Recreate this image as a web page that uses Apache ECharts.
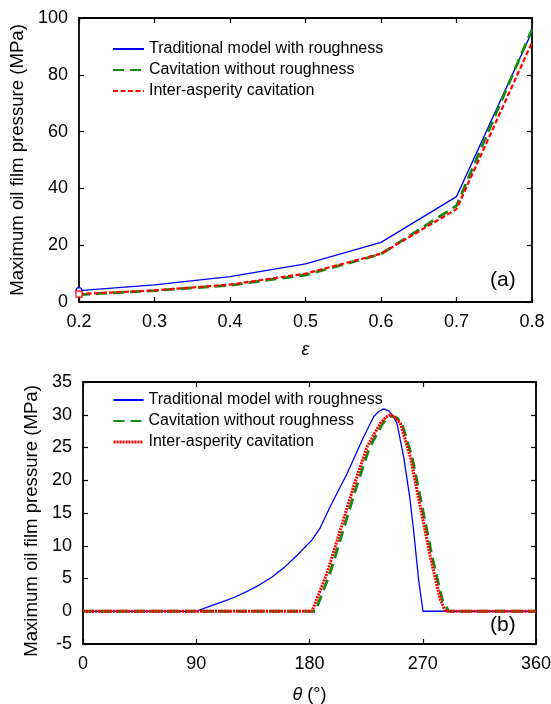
<!DOCTYPE html>
<html>
<head>
<meta charset="utf-8">
<script src="https://cdn.jsdelivr.net/npm/echarts@6/dist/echarts.min.js"></script>
<style>
html,body{margin:0;padding:0;background:#fff;}
#c{width:551px;height:704px;}
</style>
</head>
<body>
<div id="c"></div>
<script>
// ---- Data: panel (a) ----
var epsilon = [0.2, 0.3, 0.4, 0.5, 0.6, 0.7, 0.8];
var pTradA  = [4.0, 6.0, 8.9, 13.4, 21.0, 37.1, 95.2];
var pCavA   = [2.6, 4.0, 5.9, 9.5, 16.9, 33.9, 96.0];
var pInterA = [2.8, 4.1, 6.1, 10.0, 17.0, 32.7, 91.4];

// ---- Data: panel (b) ----
var thetaTrad = [0, 90, 100, 110, 120, 130, 140, 150, 160, 170, 182, 188.4, 196.5, 209.8, 223, 231, 235, 238.9, 243, 246, 249.5, 254.8, 259.6, 262.7, 266.7, 270.2, 360];
var pTradB    = [0, 0, 0.7, 1.4, 2.1, 3.0, 4.0, 5.2, 6.7, 8.5, 10.9, 12.7, 16.0, 21.0, 26.6, 29.7, 30.5, 30.9, 30.6, 29.9, 28.7, 23.6, 17.5, 12.4, 4.8, 0, 0];
var thetaCav  = [0, 184.6, 196, 206.5, 217, 227.5, 238, 242, 245.5, 249.5, 253.5, 261.5, 269.5, 277.5, 285.5, 290.6, 360];
var pCavB     = [0, 0, 5.6, 12.2, 18.8, 24.9, 28.6, 29.5, 29.8, 29.5, 28.6, 23.6, 16.0, 8.3, 1.75, 0, 0];
var thetaInter = [0, 182, 193.9, 204.5, 215, 225.7, 236.3, 240.5, 244.2, 248, 252.2, 260.1, 268, 276, 284, 288, 360];
var pInterB    = [0, 0, 5.8, 12.4, 19.0, 25.1, 28.7, 29.6, 30.0, 29.6, 28.7, 23.6, 16.0, 8.3, 1.75, 0, 0];

var xTicksA = ['0.2','0.3','0.4','0.5','0.6','0.7','0.8'];
var xTicksB = ['0','90','180','270','360'];

var names = ['Traditional model with roughness', 'Cavitation without roughness', 'Inter-asperity cavitation'];

function zip(xs, ys) { return xs.map(function (x, i) { return [x, ys[i]]; }); }

var FONT = '"Liberation Sans", Arial, sans-serif';
var BLUE = '#0000ff', GREEN = '#138a13', RED = '#ff0000';

function frameAxes(gridIndex, xmin, xmax, xint, ymin, ymax, yint, xFmt, xName, xGap, yNamePad) {
  var axLine = { show: true, onZero: false, lineStyle: { color: '#000', width: 1.8 } };
  var tick = { show: true, inside: true, length: 5, lineStyle: { color: '#000', width: 1.2 } };
  return {
    x: [
      { type: 'value', gridIndex: gridIndex, position: 'bottom', min: xmin, max: xmax, interval: xint,
        axisLine: axLine, axisTick: tick, splitLine: { show: false },
        axisLabel: { color: '#000', fontSize: 18, fontFamily: FONT, margin: 11, formatter: xFmt },
        name: xName, nameLocation: 'middle', nameGap: xGap,
        nameTextStyle: { color: '#000', fontSize: 18, fontFamily: FONT,
          rich: { i: { fontStyle: 'italic', fontSize: 18, fontFamily: FONT, color: '#000' } } } },
      { type: 'value', gridIndex: gridIndex, position: 'top', min: xmin, max: xmax, interval: xint,
        axisLine: axLine, axisTick: tick, splitLine: { show: false }, axisLabel: { show: false } }
    ],
    y: [
      { type: 'value', gridIndex: gridIndex, position: 'left', min: ymin, max: ymax, interval: yint,
        axisLine: axLine, axisTick: tick, splitLine: { show: false },
        axisLabel: { color: '#000', fontSize: 18, fontFamily: FONT, margin: 11 },
        name: 'Maximum oil film pressure (MPa)', nameLocation: 'middle', nameGap: 37,
        nameTextStyle: { color: '#000', fontSize: 18.6, fontFamily: FONT, padding: yNamePad } },
      { type: 'value', gridIndex: gridIndex, position: 'right', min: ymin, max: ymax, interval: yint,
        axisLine: axLine, axisTick: tick, splitLine: { show: false }, axisLabel: { show: false } }
    ]
  };
}

var fa = frameAxes(0, 0.2, 0.8, 0.1, 0, 100, 20,
  function (v) { return (Math.round(v * 10) / 10).toFixed(1); }, '{i|ε}', 39, [0, 0, 0, 0]);
var fb = frameAxes(1, 0, 360, 90, -5, 35, 5,
  function (v) { return String(v); }, '{i|θ} (°)', 42, [0, 16, 0, 0]);

var legendText = { color: '#000', fontSize: 16, fontFamily: FONT };
var hideSym = { color: 'rgba(0,0,0,0)', borderColor: 'rgba(0,0,0,0)', borderWidth: 0 };

var option = {
  animation: false,
  backgroundColor: '#fff',
  grid: [
    { left: 79, top: 18, width: 453, height: 284, containLabel: false, outerBoundsMode: 'none' },
    { left: 83, top: 382, width: 453, height: 262, containLabel: false, outerBoundsMode: 'none' }
  ],
  xAxis: fa.x.concat(fb.x),
  yAxis: fa.y.concat(fb.y),
  legend: [
    { orient: 'vertical', left: 112, top: 41, padding: 0, itemWidth: 31, itemHeight: 14, itemGap: 5,
      textStyle: legendText, selectedMode: false, itemStyle: hideSym,
      data: names },
    { orient: 'vertical', left: 112, top: 392, padding: 0, itemWidth: 30, itemHeight: 14, itemGap: 5,
      textStyle: legendText, selectedMode: false, itemStyle: hideSym,
      data: [names[0], names[1], { name: names[2], lineStyle: { type: [2, 1], width: 3, color: RED } }] }
  ],
  graphic: [
    { type: 'text', left: 490, top: 270, style: { text: '(a)', fontSize: 21, fontFamily: FONT, fill: '#000' } },
    { type: 'text', left: 490, top: 615, style: { text: '(b)', fontSize: 21, fontFamily: FONT, fill: '#000' } }
  ],
  series: [
    { name: names[0], type: 'line', xAxisIndex: 0, yAxisIndex: 0, symbol: 'none',
      lineStyle: { color: BLUE, width: 1.3 }, itemStyle: { color: BLUE },
      data: zip(epsilon, pTradA).map(function (d, i) {
        return i === 0 ? { value: d, symbol: 'circle', symbolSize: 6, itemStyle: { color: '#fff', borderColor: BLUE, borderWidth: 1.2 } } : d; }) },
    { name: names[1], type: 'line', xAxisIndex: 0, yAxisIndex: 0, symbol: 'none',
      lineStyle: { color: GREEN, width: 2.8, type: [11, 6] }, itemStyle: { color: GREEN },
      data: zip(epsilon, pCavA) },
    { name: names[2], type: 'line', xAxisIndex: 0, yAxisIndex: 0, symbol: 'none',
      lineStyle: { color: RED, width: 2.2, type: [5, 2.5] }, itemStyle: { color: RED },
      data: zip(epsilon, pInterA).map(function (d, i) {
        return i === 0 ? { value: d, symbol: 'rect', symbolSize: 6, itemStyle: { color: '#fff', borderColor: RED, borderWidth: 1.2 } } : d; }) },

    { name: names[0], type: 'line', xAxisIndex: 2, yAxisIndex: 2, symbol: 'none',
      lineStyle: { color: BLUE, width: 1.3 }, itemStyle: { color: BLUE },
      data: zip(thetaTrad, pTradB) },
    { name: names[1], type: 'line', xAxisIndex: 2, yAxisIndex: 2, symbol: 'none',
      lineStyle: { color: GREEN, width: 2.8, type: [11, 6] }, itemStyle: { color: GREEN },
      data: zip(thetaCav, pCavB) },
    { name: names[2], type: 'line', xAxisIndex: 2, yAxisIndex: 2, symbol: 'none',
      lineStyle: { color: RED, width: 3, type: [2, 1] }, itemStyle: { color: RED },
      data: zip(thetaInter, pInterB) }
  ]
};

var chart = echarts.init(document.getElementById('c'), null, { renderer: 'canvas' });
chart.setOption(option);
</script>
</body>
</html>
